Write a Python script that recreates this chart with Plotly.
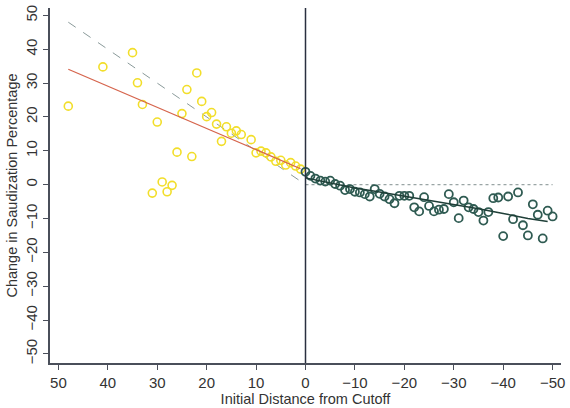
import plotly.graph_objects as go

# Left of cutoff (positive initial distance) - yellow points
yel_x = [48, 41, 35, 34, 33, 31, 30, 29, 28, 27, 26, 25, 24, 23, 22, 21, 20, 19,
         18, 17, 16, 15, 14, 13, 11, 10, 9, 8, 7, 6, 5, 4, 3, 2, 1]
yel_y = [23.2, 34.8, 39.0, 30.1, 23.7, -2.5, 18.5, 0.8, -2.1, -0.2, 9.6, 21.0, 28.1, 8.3,
         33.0, 24.6, 20.1, 21.3, 17.9, 12.8, 17.1, 15.2, 15.9, 14.8, 13.3, 9.4, 9.9, 9.4,
         8.2, 6.9, 7.2, 5.8, 6.5, 5.5, 4.6]

# Right of cutoff (non-positive initial distance) - dark green points
grn_x = [0, -1, -2, -3, -4, -5, -6, -7, -8, -9, -10, -11, -12, -13, -14, -15, -16, -17,
         -18, -19, -20, -21, -22, -23, -24, -25, -26, -27, -28, -29, -30, -31, -32, -33,
         -34, -35, -36, -37, -38, -39, -40, -41, -42, -43, -44, -45, -46, -47, -48, -49, -50]
grn_y = [3.8, 2.6, 1.8, 1.2, 0.9, 1.2, 0.2, -0.3, -1.6, -1.3, -2.1, -2.3, -2.8, -3.5, -1.3,
         -2.7, -3.5, -4.3, -5.5, -3.3, -3.3, -3.3, -6.7, -7.9, -3.7, -6.3, -7.9, -7.4, -7.2,
         -2.8, -5.2, -9.9, -4.7, -6.7, -7.2, -8.1, -10.6, -8.1, -4.0, -3.8, -15.2, -3.5,
         -10.2, -2.3, -12.0, -15.0, -5.8, -8.9, -15.9, -7.7, -9.4]

# Fitted lines
red_x = [48, 1]
red_y = [34.1, 4.7]
fit_x = [0, -5, -10, -15, -20, -25, -30, -35, -40, -45, -49]
fit_y = [2.0, 0.4, -1.0, -2.2, -3.4, -4.6, -5.8, -7.1, -8.5, -10.0, -10.9]

# Reference (full convergence) lines
ref_pos_x = [48, 0]
ref_pos_y = [48, 0]
ref_neg_x = [0, -50]
ref_neg_y = [0, 0]

tick_vals = [50, 40, 30, 20, 10, 0, -10, -20, -30, -40, -50]

fig = go.Figure()
fig.add_trace(go.Scatter(x=ref_pos_x, y=ref_pos_y, mode="lines",
                         line=dict(color="#8a9a9a", width=1, dash="dash"), hoverinfo="skip"))
fig.add_trace(go.Scatter(x=ref_neg_x, y=ref_neg_y, mode="lines",
                         line=dict(color="#9aa5a5", width=1.2, dash="dot"), hoverinfo="skip"))
fig.add_trace(go.Scatter(x=yel_x, y=yel_y, mode="markers",
                         marker=dict(symbol="circle-open", size=8, color="#f2de2a",
                                     line=dict(width=1.6, color="#f2de2a"))))
fig.add_trace(go.Scatter(x=red_x, y=red_y, mode="lines",
                         line=dict(color="#d6654d", width=1.3)))
fig.add_trace(go.Scatter(x=grn_x, y=grn_y, mode="markers",
                         marker=dict(symbol="circle-open", size=8, color="#2f5b52",
                                     line=dict(width=1.8, color="#2f5b52"))))
fig.add_trace(go.Scatter(x=fit_x, y=fit_y, mode="lines",
                         line=dict(color="#1f3f38", width=1.5)))

fig.add_shape(type="line", x0=0, x1=0, y0=0, y1=1, xref="x", yref="paper",
              line=dict(color="#2a3040", width=1.5), layer="above")

fig.update_layout(
    width=570, height=408,
    margin=dict(l=50, r=5, t=5, b=45),
    paper_bgcolor="white", plot_bgcolor="white",
    showlegend=False,
    font=dict(family="Liberation Sans, Arial, sans-serif", color="#333333"),
    xaxis=dict(range=[51.7, -51.7], tickvals=tick_vals, showgrid=False, zeroline=False,
               showline=True, linecolor="#4a4f5a", linewidth=1.5,
               ticks="outside", ticklen=5, tickwidth=1.2, tickcolor="#4a4f5a",
               tickfont=dict(size=15, color="#333333"),
               title=dict(text="Initial Distance from Cutoff", font=dict(size=14.5, color="#333333"),
                          standoff=0)),
    yaxis=dict(range=[-52.7, 52.2], tickvals=tick_vals, showgrid=False, zeroline=False,
               showline=True, linecolor="#4a4f5a", linewidth=1.5,
               ticks="outside", ticklen=5, tickwidth=1.2, tickcolor="#4a4f5a",
               tickangle=-90,
               tickfont=dict(size=15, color="#333333"),
               title=dict(text="Change in Saudization Percentage", font=dict(size=14.5, color="#333333"),
                          standoff=2)),
)

fig.write_html("out.html")
